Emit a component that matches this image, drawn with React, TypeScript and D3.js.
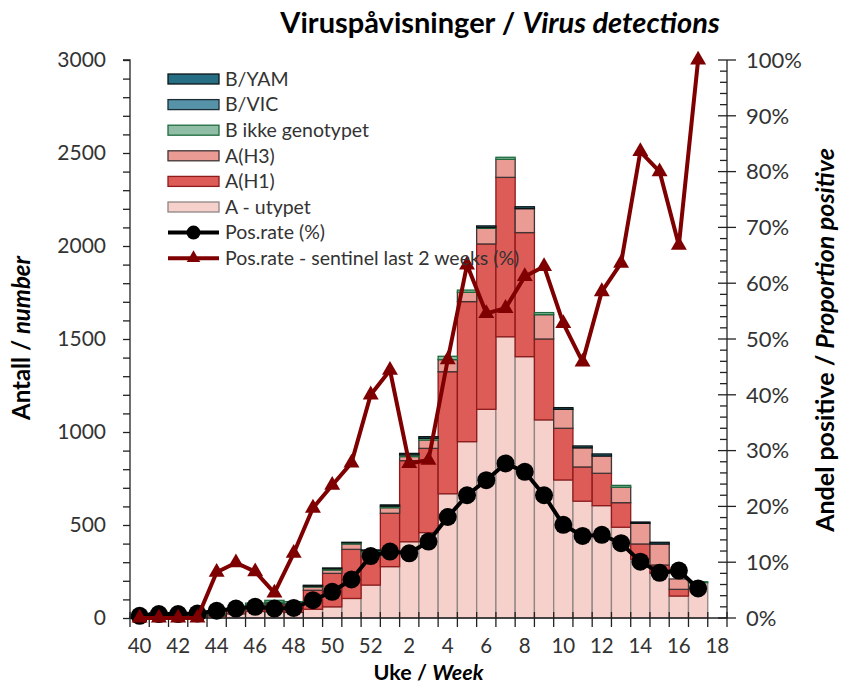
import React, { useEffect, useRef } from "react";
import * as d3 from "d3";

// weeks 40-52 and 1-18 of the season
const weeks = [40, 41, 42, 43, 44, 45, 46, 47, 48, 49, 50, 51, 52, 1, 2, 3, 4, 5, 6, 7, 8, 9, 10, 11, 12, 13, 14, 15, 16, 17, 18];

const aUtypet = [2, 2, 3, 3, 10, 22, 35, 35, 30, 47, 60, 105, 177, 276, 410, 459, 668, 948, 1122, 1512, 1405, 1065, 742, 628, 604, 488, 316, 240, 118, 190, 0];
const aH1 = [1, 1, 1, 2, 6, 18, 30, 42, 40, 102, 180, 264, 153, 287, 436, 453, 656, 753, 889, 857, 667, 435, 278, 184, 174, 132, 82, 45, 36, 0, 0];
const aH3 = [0, 0, 0, 0, 2, 4, 6, 8, 8, 18, 18, 29, 26, 30, 22, 45, 65, 50, 84, 97, 129, 131, 102, 103, 93, 83, 111, 113, 56, 0, 0];
const bIkke = [1, 1, 1, 1, 2, 6, 9, 10, 10, 4, 7, 7, 6, 8, 9, 9, 18, 12, 4, 11, 0, 11, 0, 0, 0, 10, 0, 0, 0, 5, 0];
const bVic = [0, 0, 0, 0, 0, 0, 0, 0, 0, 0, 0, 0, 0, 0, 0, 0, 0, 0, 0, 0, 0, 0, 0, 0, 0, 0, 0, 0, 0, 0, 0];
const bYam = [0, 0, 0, 0, 0, 0, 0, 0, 0, 5, 4, 2, 4, 7, 8, 9, 0, 0, 9, 0, 10, 0, 9, 10, 11, 0, 7, 9, 0, 0, 0];

const posRate = [0.4, 0.7, 0.7, 0.8, 1.3, 1.7, 2.0, 1.7, 1.8, 3.2, 4.7, 6.9, 11.1, 11.9, 11.6, 13.7, 18.1, 22.0, 24.7, 27.7, 26.2, 22.0, 16.7, 14.7, 14.9, 13.4, 10.1, 8.1, 8.5, 5.3, null];
const sentinel = [0, 0, 0, 0, 8.2, 9.9, 8.3, 4.5, 11.6, 19.7, 23.8, 27.8, 40.0, 44.4, 27.7, 28.3, 46.3, 63.3, 54.6, 55.5, 61.2, 63.0, 52.8, 45.9, 58.5, 63.6, 83.6, 80.0, 66.8, 100, null];

const leftTicks = [0, 500, 1000, 1500, 2000, 2500, 3000];
const rightTicks = [0, 10, 20, 30, 40, 50, 60, 70, 80, 90, 100];

const series = [
  { key: "aUtypet", label: "A - utypet", fill: "#f6d1cb", stroke: "#8f8584", values: aUtypet },
  { key: "aH1", label: "A(H1)", fill: "#de5c57", stroke: "#8e1b1b", values: aH1 },
  { key: "aH3", label: "A(H3)", fill: "#ea9b94", stroke: "#3f3535", values: aH3 },
  { key: "bIkke", label: "B ikke genotypet", fill: "#8fbda5", stroke: "#1f6b3e", values: bIkke },
  { key: "bVic", label: "B/VIC", fill: "#5793a8", stroke: "#1c2d36", values: bVic },
  { key: "bYam", label: "B/YAM", fill: "#256e84", stroke: "#0d1416", values: bYam },
];

const W = 850;
const H = 686;
const FONT = "Lato, 'Open Sans', sans-serif";

function drawChart(node) {
  const svg = d3.select(node);
  svg.selectAll("*").remove();

  const margin = { left: 130, right: 727, top: 60, bottom: 618 };

  const x = d3.scaleBand().domain(d3.range(weeks.length)).range([margin.left, margin.right]).padding(0);
  const y = d3.scaleLinear().domain([0, 3000]).range([margin.bottom, margin.top]);
  const y2 = d3.scaleLinear().domain([0, 100]).range([margin.bottom, margin.top]);

  const rows = weeks.map((w, i) => {
    const r = { week: w };
    series.forEach(s => (r[s.key] = s.values[i]));
    return r;
  });
  const stacked = d3.stack().keys(series.map(s => s.key))(rows);

  // bars
  const layers = svg.append("g").selectAll("g.layer")
    .data(stacked)
    .enter()
    .append("g")
    .attr("fill", (d, i) => series[i].fill)
    .attr("stroke", (d, i) => series[i].stroke)
    .attr("stroke-width", 1.3);

  layers.selectAll("rect")
    .data(d => d.map((v, i) => ({ v, i })).filter(o => o.v[1] - o.v[0] > 0))
    .enter()
    .append("rect")
    .attr("x", d => x(d.i))
    .attr("width", x.bandwidth())
    .attr("y", d => y(d.v[1]))
    .attr("height", d => y(d.v[0]) - y(d.v[1]));

  // left axis
  const leftAxis = d3.axisLeft(y)
    .tickValues(d3.range(0, 3001, 100))
    .tickSize(7)
    .tickPadding(17)
    .tickFormat(d => (leftTicks.includes(d) ? String(d) : ""));
  const gl = svg.append("g").attr("transform", `translate(${margin.left},0)`).call(leftAxis);
  gl.select(".domain").attr("stroke", "#222").attr("stroke-width", 1.3).attr("d", `M-7,${margin.top}H0V${margin.bottom}`);
  gl.selectAll(".tick line").attr("stroke", "#222").attr("stroke-width", 1.3);
  gl.selectAll(".tick text").attr("font-family", FONT).attr("font-size", 21).attr("fill", "#333");

  // right axis
  const gr = svg.append("g").attr("transform", `translate(${margin.right},0)`);
  gr.append("line").attr("x1", 0).attr("x2", 0).attr("y1", margin.top).attr("y2", margin.bottom)
    .attr("stroke", "#222").attr("stroke-width", 1.3);
  gr.selectAll("line.minor")
    .data(d3.range(0, 101, 2))
    .enter()
    .append("line")
    .attr("x1", d => (d % 10 === 0 ? -9 : -7))
    .attr("x2", d => (d % 10 === 0 ? 9 : 0))
    .attr("y1", d => y2(d))
    .attr("y2", d => y2(d))
    .attr("stroke", "#222")
    .attr("stroke-width", 1.3);
  gr.selectAll("text")
    .data(rightTicks)
    .enter()
    .append("text")
    .attr("x", 19)
    .attr("y", d => y2(d))
    .attr("dy", "0.35em")
    .attr("font-family", FONT)
    .attr("font-size", 22)
    .attr("fill", "#333")
    .text(d => d + "%");

  // x axis
  const gx = svg.append("g");
  gx.append("line").attr("x1", margin.left).attr("x2", margin.right)
    .attr("y1", margin.bottom).attr("y2", margin.bottom)
    .attr("stroke", "#222").attr("stroke-width", 1.3);
  gx.selectAll("line.tick")
    .data(d3.range(weeks.length + 1))
    .enter()
    .append("line")
    .attr("x1", i => margin.left + i * x.step())
    .attr("x2", i => margin.left + i * x.step())
    .attr("y1", margin.bottom - 6)
    .attr("y2", margin.bottom + 9)
    .attr("stroke", "#222")
    .attr("stroke-width", 1.3);
  gx.selectAll("text")
    .data(weeks.map((w, i) => ({ w, i })).filter(d => d.i % 2 === 0))
    .enter()
    .append("text")
    .attr("x", d => x(d.i) + x.bandwidth() / 2)
    .attr("y", 653)
    .attr("text-anchor", "middle")
    .attr("font-family", FONT)
    .attr("font-size", 20.5)
    .attr("fill", "#333")
    .text(d => d.w);

  // lines
  const lineFn = d3.line()
    .defined(d => d != null)
    .x((d, i) => x(i) + x.bandwidth() / 2)
    .y(d => y2(d));

  svg.append("path")
    .datum(posRate)
    .attr("d", lineFn)
    .attr("fill", "none")
    .attr("stroke", "#000")
    .attr("stroke-width", 4)
    .attr("stroke-linejoin", "round");

  svg.append("g").selectAll("circle")
    .data(posRate.map((v, i) => ({ v, i })).filter(d => d.v != null))
    .enter()
    .append("circle")
    .attr("cx", d => x(d.i) + x.bandwidth() / 2)
    .attr("cy", d => y2(d.v))
    .attr("r", 9)
    .attr("fill", "#000");

  svg.append("path")
    .datum(sentinel)
    .attr("d", lineFn)
    .attr("fill", "none")
    .attr("stroke", "#7f0000")
    .attr("stroke-width", 4)
    .attr("stroke-linejoin", "round");

  const tri = d3.symbol().type(d3.symbolTriangle).size(110);
  svg.append("g").selectAll("path")
    .data(sentinel.map((v, i) => ({ v, i })).filter(d => d.v != null))
    .enter()
    .append("path")
    .attr("d", tri)
    .attr("transform", d => `translate(${x(d.i) + x.bandwidth() / 2},${y2(d.v)})`)
    .attr("fill", "#7f0000");

  // legend
  const legendItems = [
    ...series.slice().reverse().map(s => ({ type: "rect", label: s.label, fill: s.fill, stroke: s.stroke })),
    { type: "dot", label: "Pos.rate (%)", color: "#000" },
    { type: "tri", label: "Pos.rate - sentinel last 2 weeks (%)", color: "#7f0000" },
  ];
  const lg = svg.append("g").selectAll("g")
    .data(legendItems)
    .enter()
    .append("g")
    .attr("transform", (d, i) => `translate(168,${79 + i * 25.6})`);

  lg.filter(d => d.type === "rect")
    .append("rect")
    .attr("x", 0).attr("y", -5).attr("width", 51).attr("height", 10)
    .attr("fill", d => d.fill).attr("stroke", d => d.stroke).attr("stroke-width", 1.3);

  lg.filter(d => d.type !== "rect")
    .append("line")
    .attr("x1", 0).attr("x2", 51).attr("y1", 0).attr("y2", 0)
    .attr("stroke", d => d.color).attr("stroke-width", 4);
  lg.filter(d => d.type === "dot")
    .append("circle").attr("cx", 25.5).attr("cy", 0).attr("r", 7).attr("fill", "#000");
  lg.filter(d => d.type === "tri")
    .append("path").attr("d", d3.symbol().type(d3.symbolTriangle).size(80))
    .attr("transform", "translate(25.5,0)").attr("fill", "#7f0000");

  lg.append("text")
    .attr("x", 57)
    .attr("y", 0)
    .attr("dy", "0.35em")
    .attr("font-family", FONT)
    .attr("font-size", 19.5)
    .attr("fill", "#333")
    .text(d => d.label);

  // titles
  const title = svg.append("text")
    .attr("x", 500).attr("y", 33)
    .attr("text-anchor", "middle")
    .attr("font-family", FONT).attr("font-size", 29).attr("font-weight", "bold").attr("fill", "#000");
  title.append("tspan").text("Viruspåvisninger / ");
  title.append("tspan").attr("font-style", "italic").text("Virus detections");

  const xt = svg.append("text")
    .attr("x", (margin.left + margin.right) / 2).attr("y", 680)
    .attr("text-anchor", "middle")
    .attr("font-family", FONT).attr("font-size", 21.5).attr("font-weight", "bold").attr("fill", "#000");
  xt.append("tspan").text("Uke / ");
  xt.append("tspan").attr("font-style", "italic").text("Week");

  const yt = svg.append("text")
    .attr("transform", "translate(30,338) rotate(-90)")
    .attr("text-anchor", "middle")
    .attr("font-family", FONT).attr("font-size", 24).attr("font-weight", "bold").attr("fill", "#000");
  yt.append("tspan").text("Antall / ");
  yt.append("tspan").attr("font-style", "italic").text("number");

  const y2t = svg.append("text")
    .attr("transform", "translate(834,340) rotate(-90)")
    .attr("text-anchor", "middle")
    .attr("font-family", FONT).attr("font-size", 25).attr("font-weight", "bold").attr("fill", "#000");
  y2t.append("tspan").text("Andel positive / ");
  y2t.append("tspan").attr("font-style", "italic").text("Proportion positive");
}

export default function App() {
  const ref = useRef(null);
  useEffect(() => {
    document.body.style.margin = "0";
    drawChart(ref.current);
  }, []);
  return (
    <svg ref={ref} width={W} height={H} style={{ display: "block", background: "#fff" }} />
  );
}
